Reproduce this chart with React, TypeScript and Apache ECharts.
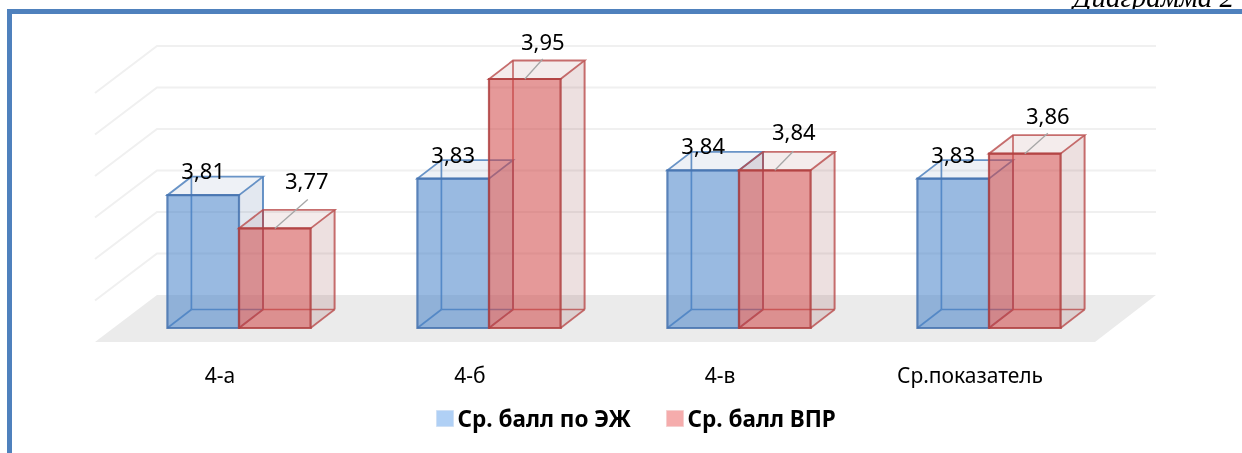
import React, { useEffect, useRef } from "react";
import * as echarts from "echarts";

const categories = ["4-а", "4-б", "4-в", "Ср.показатель"];
const seriesEJ = [3.81, 3.83, 3.84, 3.83];
const seriesVPR = [3.77, 3.95, 3.84, 3.86];
const axisTicks = [3.65, 3.7, 3.75, 3.8, 3.85, 3.9, 3.95];
const nameEJ = "Ср. балл по ЭЖ";
const nameVPR = "Ср. балл ВПР";
const captionText = "Диаграмма 2";

// layout constants (pixels), not data
const BAR_SHIFT = 19;
const BAR_W = 71.6;
const DEPTH_X = 24;
const DEPTH_Y = 18.5;
const FONT = "'Noto Sans', sans-serif";
const labelOffsetsEJ = [[0, -25], [0, -25], [0, -25], [0, -25]];
const labelOffsetsVPR = [[32, -48], [18, -38], [19, -39], [23, -39]];
const leaderEndsVPR = [[33, -29], [18, -20], [18.5, -19], [23, -20.5]];

const fmt = (v: number) => v.toFixed(2).replace(".", ",");

function wallRender(params: any, api: any) {
  const cs = params.coordSys;
  const v = api.value(1);
  const y = api.coord([0, v])[1];
  const left = cs.x;
  const right = cs.x + cs.width;
  const children: any[] = [];
  if (params.dataIndex === 0) {
    children.push({
      type: "polygon",
      shape: { points: [[left, y + 14], [right, y + 14], [right + 61, y - 33], [left + 62, y - 33]] },
      style: { fill: "#ebebeb", stroke: "none" },
    });
  } else {
    children.push({
      type: "polyline",
      shape: { points: [[left, y + 14], [left + 62, y - 33], [right + 61, y - 33]] },
      style: { fill: "none", stroke: "#f0f0f0", lineWidth: 2 },
    });
  }
  return { type: "group", children };
}

function boxRender(side: -1 | 1, colors: any, offsets: number[][], leaders: number[][] | null) {
  return (params: any, api: any) => {
    const i = params.dataIndex;
    const cat = api.value(0);
    const v = api.value(1);
    const top = api.coord([cat, v]);
    const base = api.coord([cat, axisTicks[0]]);
    const yT = top[1];
    const yB = base[1];
    const x0 = side < 0 ? top[0] + BAR_SHIFT - BAR_W : top[0] + BAR_SHIFT;
    const x1 = x0 + BAR_W;
    const dx = DEPTH_X;
    const dy = DEPTH_Y;
    const edge = { fill: "none", stroke: colors.edge, lineWidth: 1.8 };
    const line = (a: number[], b: number[], w = 1.7) => ({
      type: "line",
      shape: { x1: a[0], y1: a[1], x2: b[0], y2: b[1] },
      style: { stroke: colors.edge, lineWidth: w },
    });
    const children: any[] = [
      {
        type: "polygon",
        shape: { points: [[x1, yT], [x1 + dx, yT - dy], [x1 + dx, yB - dy], [x1, yB]] },
        style: { fill: colors.side, stroke: "none" },
      },
      {
        type: "polygon",
        shape: { points: [[x0, yT], [x1, yT], [x1 + dx, yT - dy], [x0 + dx, yT - dy]] },
        style: { fill: colors.top, stroke: "none" },
      },
      line([x0 + dx, yT - dy], [x0 + dx, yB - dy]),
      line([x0 + dx, yB - dy], [x1 + dx, yB - dy]),
      line([x0, yB], [x0 + dx, yB - dy]),
      line([x1, yB], [x1 + dx, yB - dy]),
      {
        type: "polygon",
        shape: { points: [[x0, yT], [x1, yT], [x1 + dx, yT - dy], [x0 + dx, yT - dy]] },
        style: edge,
      },
      line([x1 + dx, yT - dy], [x1 + dx, yB - dy], 2),
      {
        type: "rect",
        shape: { x: x0, y: yT, width: BAR_W, height: yB - yT },
        style: { fill: colors.front, stroke: colors.frontEdge, lineWidth: 2.2 },
      },
    ];
    const cx = (x0 + x1) / 2;
    if (leaders) {
      children.push({
        type: "line",
        shape: { x1: cx, y1: yT, x2: cx + leaders[i][0], y2: yT + leaders[i][1] },
        style: { stroke: "#a6a6a6", lineWidth: 1.3 },
      });
    }
    children.push({
      type: "text",
      x: cx + offsets[i][0],
      y: yT + offsets[i][1],
      style: {
        text: fmt(v),
        fill: "#000",
        font: `22px ${FONT}`,
        align: "center",
        verticalAlign: "middle",
      },
    });
    return { type: "group", children };
  };
}

const blueColors = {
  front: "rgba(70,130,200,0.55)",
  side: "rgba(100,130,170,0.18)",
  top: "rgba(100,130,170,0.11)",
  edge: "rgba(79,129,189,0.85)",
  frontEdge: "rgba(70,115,175,0.85)",
};
const redColors = {
  front: "rgba(207,70,70,0.55)",
  side: "rgba(150,70,70,0.17)",
  top: "rgba(150,70,70,0.1)",
  edge: "rgba(185,75,75,0.8)",
  frontEdge: "rgba(175,65,65,0.85)",
};

export default function App() {
  const ref = useRef<HTMLDivElement>(null);
  useEffect(() => {
    document.body.style.margin = "0";
    const chart = echarts.init(ref.current!, null, { renderer: "svg" });
    chart.setOption({
      animation: false,
      backgroundColor: "#fff",
      grid: { left: 95, top: 79, width: 1000, height: 249 },
      xAxis: {
        type: "category",
        data: categories,
        axisLine: { show: false },
        axisTick: { show: false },
        axisLabel: { color: "#000", fontFamily: "'Noto Sans', sans-serif", fontSize: 21, margin: 36 },
      },
      yAxis: {
        type: "value",
        min: 3.65,
        max: 3.95,
        interval: 0.05,
        show: false,
        splitLine: { show: false },
      },
      legend: {
        left: 436,
        top: 407,
        padding: 0,
        itemWidth: 17,
        itemHeight: 16,
        itemGap: 35,
        icon: "rect",
        selectedMode: false,
        textStyle: { color: "#000", fontFamily: "'Noto Sans', sans-serif", fontWeight: "bold", fontSize: 22.5, padding: [0, 0, 0, -1] },
        data: [
          { name: nameEJ, itemStyle: { color: "#b0d0f5", borderColor: "#cfe0f5", borderWidth: 1 } },
          { name: nameVPR, itemStyle: { color: "#f5acac", borderColor: "#f5cfcf", borderWidth: 1 } },
        ],
      },
      graphic: [
        {
          type: "text",
          x: 1234,
          y: 11,
          z: 1,
          style: {
            text: captionText,
            fill: "#000",
            font: "italic 29px 'Liberation Serif', serif",
            align: "right",
            verticalAlign: "bottom",
          },
        },
        { type: "rect", z: 2, shape: { x: 7, y: 9, width: 1235, height: 5 }, style: { fill: "#4f81bd" } },
        { type: "rect", z: 2, shape: { x: 7, y: 9, width: 5, height: 444 }, style: { fill: "#4f81bd" } },
      ],
      series: [
        {
          type: "custom",
          name: "grid",
          coordinateSystem: "cartesian2d",
          renderItem: wallRender,
          encode: { x: 0, y: 1 },
          silent: true,
          z: 1,
          data: axisTicks.map((t) => [categories[0], t]),
        },
        {
          type: "custom",
          name: nameEJ,
          coordinateSystem: "cartesian2d",
          renderItem: boxRender(-1, blueColors, labelOffsetsEJ, null),
          encode: { x: 0, y: 1 },
          z: 2,
          data: categories.map((c, i) => [c, seriesEJ[i]]),
        },
        {
          type: "custom",
          name: nameVPR,
          coordinateSystem: "cartesian2d",
          renderItem: boxRender(1, redColors, labelOffsetsVPR, leaderEndsVPR),
          encode: { x: 0, y: 1 },
          z: 3,
          data: categories.map((c, i) => [c, seriesVPR[i]]),
        },
      ],
    });
    return () => chart.dispose();
  }, []);
  return <div ref={ref} style={{ width: 1242, height: 453, filter: "blur(0.4px)" }} />;
}
